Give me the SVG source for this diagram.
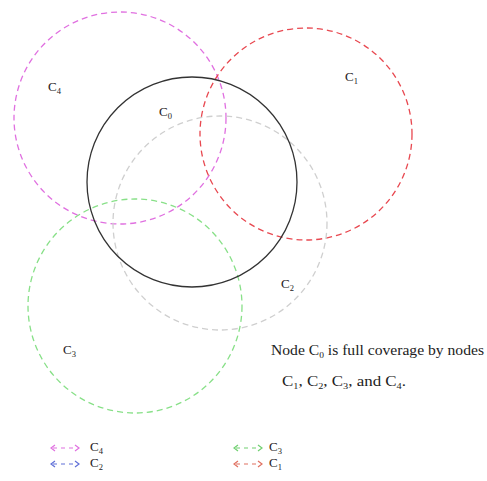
<svg xmlns="http://www.w3.org/2000/svg" width="487" height="481" viewBox="0 0 487 481">
<style>
text{font-family:"Liberation Serif","DejaVu Serif",serif;font-size:13px;fill:#222}
.sub{font-size:8.5px}
.cap{font-size:14px}
.c{fill:none;stroke-width:1.3}
.d{stroke-dasharray:6 4}
.lg{fill:none;stroke-width:1.2}
</style>
<defs>
<marker id="chev" viewBox="0 0 6 8" refX="3" refY="4" markerWidth="6" markerHeight="8" orient="auto-start-reverse" markerUnits="userSpaceOnUse">
<path d="M1,1 L5,4 L1,7" fill="none" stroke="context-stroke" stroke-width="1.2"/>
</marker>
</defs>
<rect width="487" height="481" fill="#fff"/>
<g id="C4">
<circle class="c d" cx="120" cy="118" r="106" stroke="#e070e0"/>
<text x="48" y="91">C<tspan class="sub" dy="3">4</tspan></text>
</g>
<g id="C1">
<circle class="c d" cx="306" cy="134" r="106" stroke="#e84850"/>
<text x="345" y="81">C<tspan class="sub" dy="3">1</tspan></text>
</g>
<g id="C2">
<circle class="c d" cx="220" cy="223" r="107" stroke="#cfcfcf" stroke-dasharray="10 2"/>
<text x="281" y="288">C<tspan class="sub" dy="3">2</tspan></text>
</g>
<g id="C3">
<circle class="c d" cx="135" cy="306" r="107" stroke="#88e088"/>
<text x="63" y="354">C<tspan class="sub" dy="3">3</tspan></text>
</g>
<g id="C0">
<circle class="c" cx="192" cy="182" r="105" stroke="#333" stroke-width="1.5"/>
<text x="159" y="116">C<tspan class="sub" dy="3">0</tspan></text>
</g>
<g id="caption">
<text class="cap" x="271" y="355" textLength="213" lengthAdjust="spacingAndGlyphs">Node C<tspan class="sub" dy="3">0</tspan><tspan dy="-3"> is full coverage by nodes</tspan></text>
<text class="cap" x="282" y="386" textLength="124" lengthAdjust="spacingAndGlyphs">C<tspan class="sub" dy="3">1</tspan><tspan dy="-3">, C</tspan><tspan class="sub" dy="3">2</tspan><tspan dy="-3">, C</tspan><tspan class="sub" dy="3">3</tspan><tspan dy="-3">, and C</tspan><tspan class="sub" dy="3">4</tspan><tspan dy="-3">.</tspan></text>
</g>
<g id="legend">
<line class="lg" x1="53" y1="448" x2="77" y2="448" stroke="#e070e0" stroke-dasharray="4 4" marker-start="url(#chev)" marker-end="url(#chev)"/>
<text x="90" y="451">C<tspan class="sub" dy="3">4</tspan></text>
<line class="lg" x1="53" y1="464" x2="77" y2="464" stroke="#6070d8" stroke-dasharray="4 4" marker-start="url(#chev)" marker-end="url(#chev)"/>
<text x="90" y="467">C<tspan class="sub" dy="3">2</tspan></text>
<line class="lg" x1="236" y1="448" x2="260" y2="448" stroke="#70d070" stroke-dasharray="4 4" marker-start="url(#chev)" marker-end="url(#chev)"/>
<text x="269" y="451">C<tspan class="sub" dy="3">3</tspan></text>
<line class="lg" x1="236" y1="464" x2="260" y2="464" stroke="#e07060" stroke-dasharray="4 4" marker-start="url(#chev)" marker-end="url(#chev)"/>
<text x="269" y="467">C<tspan class="sub" dy="3">1</tspan></text>
</g>
</svg>
